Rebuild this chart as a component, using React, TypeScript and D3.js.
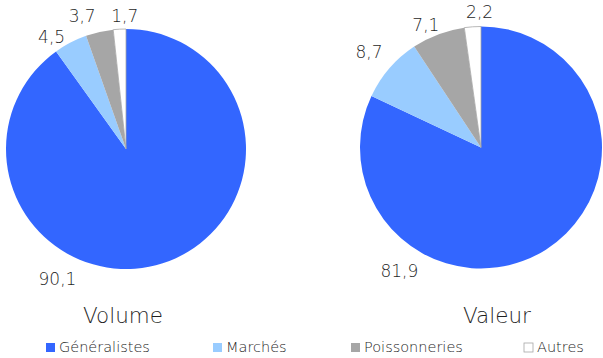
import React from "react";
import * as d3 from "d3";

const categories = ["Généralistes", "Marchés", "Poissonneries", "Autres"];
const volumeValues = [90.1, 4.5, 3.7, 1.7];
const valeurValues = [81.9, 8.7, 7.1, 2.2];
const chartTitles = ["Volume", "Valeur"];
const colors = ["#3366FF", "#99CCFF", "#A6A6A6", "#FFFFFF"];

const W = 603;
const H = 358;
const FONT = "'DejaVu Sans', sans-serif";
const TEXT = "#1f1f1f";

// label nudges (layout only) relative to the mid-angle point at r + 15
const pies = [
  {
    values: volumeValues,
    title: chartTitles[0],
    cx: 126,
    cy: 149,
    r: 120,
    titleX: 123,
    bigAngle: 207.8,
    bigDist: 147,
    nudges: [[0, 0], [-12, 8], [-14, -1], [6, 2]],
  },
  {
    values: valeurValues,
    title: chartTitles[1],
    cx: 481,
    cy: 147.5,
    r: 121,
    titleX: 497,
    bigAngle: 213.5,
    bigDist: 148,
    nudges: [[0, 0], [-9, -7], [-7, 5], [8, 0]],
  },
];

const legendX = [46, 213, 351, 524];

const fmt = (v: number) => v.toFixed(1).replace(".", ",");

function Pie({ p }: { p: (typeof pies)[number] }) {
  const pieGen = d3.pie<number>().sort(null).value((d) => d);
  const arcs = pieGen(p.values);
  const arc = d3.arc<d3.PieArcDatum<number>>().innerRadius(0).outerRadius(p.r);
  return (
    <g transform={`translate(${p.cx},${p.cy})`}>
      {arcs.map((a, i) => (
        <path
          key={i}
          d={arc(a) || ""}
          fill={colors[i]}
          stroke={i === 3 ? "#A6A6A6" : "none"}
          strokeWidth={i === 3 ? 0.8 : 0}
        />
      ))}
      {arcs.map((a, i) => {
        let ang = (a.startAngle + a.endAngle) / 2;
        let dist = p.r + 15;
        if (i === 0) {
          ang = (p.bigAngle * Math.PI) / 180;
          dist = p.bigDist;
        }
        const x = Math.sin(ang) * dist + p.nudges[i][0];
        const y = -Math.cos(ang) * dist + p.nudges[i][1];
        return (
          <text
            key={"l" + i}
            x={x}
            y={y}
            textAnchor="middle"
            dominantBaseline="central"
            fontFamily={FONT}
            fontWeight={200}
            fontSize={17}
            fill={TEXT}
          >
            {fmt(a.data)}
          </text>
        );
      })}
    </g>
  );
}

export default function App() {
  return (
    <svg width={W} height={H} style={{ position: "absolute", left: 0, top: 0, background: "#fff" }}>
      {pies.map((p, i) => (
        <g key={i}>
          <Pie p={p} />
          <text
            x={p.titleX}
            y={323}
            textAnchor="middle"
            fontFamily={FONT}
            fontWeight={200}
            fontSize={21.5}
            fill={TEXT}
          >
            {p.title}
          </text>
        </g>
      ))}
      {categories.map((c, i) => (
        <g key={c}>
          <rect
            x={legendX[i]}
            y={343}
            width={9}
            height={9}
            fill={colors[i]}
            stroke={i === 3 ? "#A6A6A6" : "none"}
            strokeWidth={i === 3 ? 0.8 : 0}
          />
          <text
            x={legendX[i] + 13}
            y={352}
            fontFamily={FONT}
            fontWeight={200}
            fontSize={14.5}
            fill={TEXT}
          >
            {c}
          </text>
        </g>
      ))}
    </svg>
  );
}
